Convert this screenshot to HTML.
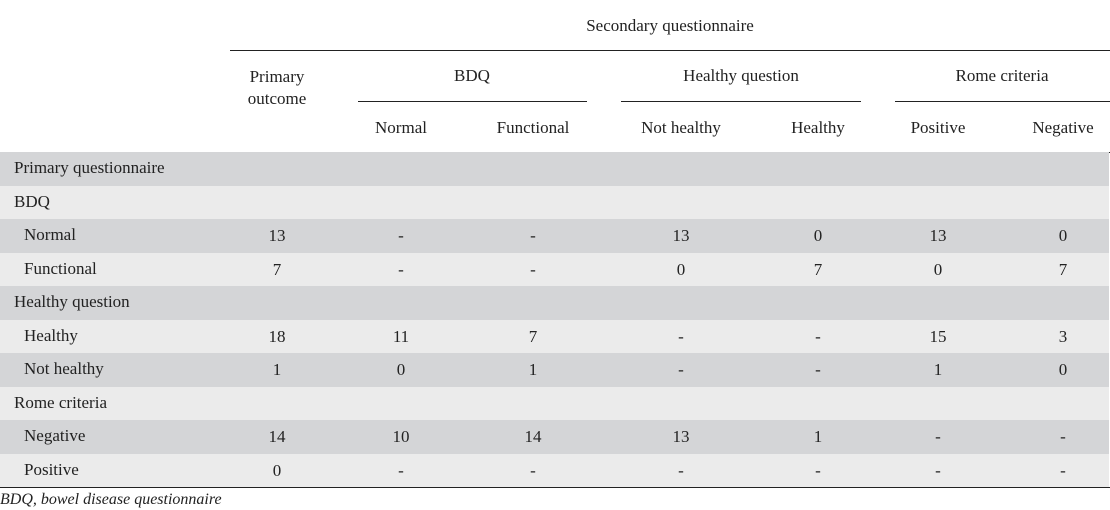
<!DOCTYPE html>
<html><head><meta charset="utf-8"><style>
body{margin:0;width:1110px;height:509px;background:#fff;position:relative;overflow:hidden;font-family:"Liberation Serif","DejaVu Serif",Times,serif;font-size:17px;color:#222}
.a{position:absolute;white-space:nowrap;line-height:20px;font-family:"Liberation Serif","DejaVu Serif",Times,serif}
.c{transform:translateX(-50%);text-align:center}
.ln{position:absolute;height:1px;background:#222}
.row{position:absolute;left:0;width:1109px;height:34px}
</style></head><body>
<div class="a c" style="left:670px;top:16px">Secondary questionnaire</div>
<div class="ln" style="left:230px;width:880px;top:50px"></div>
<div class="a c" style="left:277px;top:66px;line-height:22px">Primary<br>outcome</div>
<div class="a c" style="left:472px;top:66px">BDQ</div>
<div class="a c" style="left:741px;top:66px">Healthy question</div>
<div class="a c" style="left:1002px;top:66px">Rome criteria</div>
<div class="ln" style="left:358px;width:229px;top:101px"></div>
<div class="ln" style="left:621px;width:240px;top:101px"></div>
<div class="ln" style="left:895px;width:215px;top:101px"></div>
<div id="sub"></div>
<div class="ln" style="left:0;width:1110px;top:152px"></div>
<div id="body"></div>
<div class="ln" style="left:0;width:1110px;top:487px"></div>
<div class="a" style="left:0;top:490px;font-style:italic;font-size:16px">BDQ, bowel disease questionnaire</div>
<script>
const subHeaders=["Normal","Functional","Not healthy","Healthy","Positive","Negative"];
const rowLabels=["Primary questionnaire","BDQ","Normal","Functional","Healthy question","Healthy","Not healthy","Rome criteria","Negative","Positive"];
const rowIndent=[0,0,1,1,0,1,1,0,1,1];
const primaryOutcome=["","","13","7","","18","1","","14","0"];
const bdqNormal=["","","-","-","","11","0","","10","-"];
const bdqFunctional=["","","-","-","","7","1","","14","-"];
const notHealthy=["","","13","0","","-","-","","13","-"];
const healthy=["","","0","7","","-","-","","1","-"];
const romePositive=["","","13","0","","15","1","","-","-"];
const romeNegative=["","","0","7","","3","0","","-","-"];
const cols=[primaryOutcome,bdqNormal,bdqFunctional,notHealthy,healthy,romePositive,romeNegative];
const colX=[277,401,533,681,818,938,1063];
const top0=152,rowH=33.5;
const sub=document.getElementById('sub');
subHeaders.forEach((t,i)=>{const d=document.createElement('div');d.className='a c';d.style.left=colX[i+1]+'px';d.style.top='118px';d.textContent=t;


sub.appendChild(d);});
const body=document.getElementById('body');
rowLabels.forEach((lab,r)=>{
 const row=document.createElement('div');row.className='row';
 row.style.top=(top0+r*rowH)+'px';row.style.height=(rowH+0.5)+'px';
 row.style.background=r%2===0?'#d4d5d7':'#ebebeb';
 
 
 body.appendChild(row);
 const l=document.createElement('div');l.className='a';l.style.left=(rowIndent[r]?24:14)+'px';l.style.top=(top0+r*rowH+6)+'px';l.textContent=lab;
 
 
 body.appendChild(l);
 cols.forEach((c,ci)=>{if(!c[r])return;const d=document.createElement('div');d.className='a c';d.style.left=colX[ci]+'px';d.style.top=(top0+r*rowH+7)+'px';d.textContent=c[r];
 
 
 body.appendChild(d);});
});
</script>
</body></html>
